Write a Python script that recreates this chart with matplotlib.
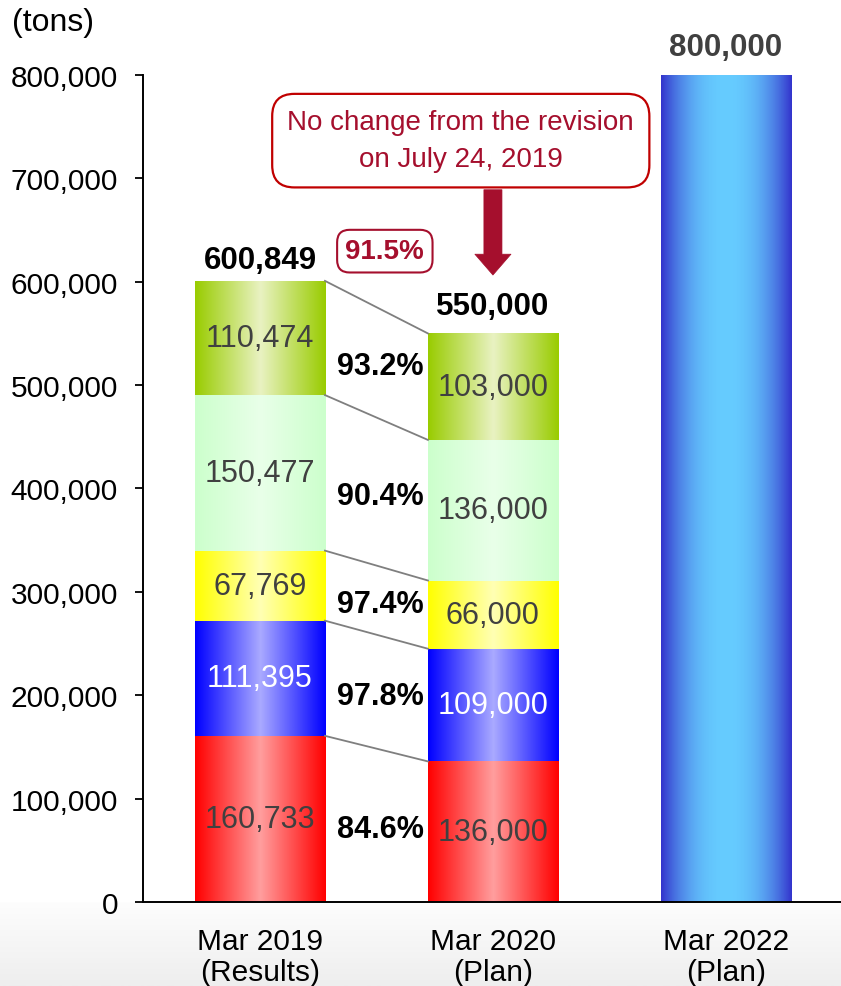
import numpy as np
import matplotlib
matplotlib.use("Agg")
import matplotlib.pyplot as plt
from matplotlib.colors import to_rgb

plt.rcParams['font.family'] = ['Liberation Sans', 'DejaVu Sans']

# ---------------- data ----------------
categories = ["Mar 2019\n(Results)", "Mar 2020\n(Plan)", "Mar 2022\n(Plan)"]
seg_2019 = [160733, 111395, 67769, 150477, 110474]
seg_2020 = [136000, 109000, 66000, 136000, 103000]
total_2022 = 800000
total_labels = ["600,849", "550,000", "800,000"]
pct_labels = ["84.6%", "97.8%", "97.4%", "90.4%", "93.2%"]
overall_pct = "91.5%"
callout_text = "No change from the revision\non July 24, 2019"
y_ticks = [0, 100000, 200000, 300000, 400000, 500000, 600000, 700000, 800000]

# ---------------- styles ----------------
seg_colors = [("#FF0000", "#FF9E9E"), ("#0000FF", "#AAAAFF"), ("#FFFF00", "#FFFFB4"),
              ("#CCFFCC", "#E9FFE9"), ("#99CC00", "#E9F2C2")]
seg_text_colors = ["#404040", "#FFFFFF", "#404040", "#404040", "#404040"]
bar3_colors = ("#3333CC", "#66CCFF")
crimson = "#A50F2D"
W = 0.558

fig = plt.figure(figsize=8.41 * np.array([1, 987 / 841]), dpi=100)

# bottom light gray background
bg = fig.add_axes([0, 0, 1, 84 / 987])
bg.set_zorder(-1)
grad_v = np.linspace(0, 1, 64)[:, None]
bgc = np.array(to_rgb("#FDFDFD")) * (1 - grad_v[..., None]) + np.array(to_rgb("#EEEEEE")) * grad_v[..., None]
bg.imshow(bgc, aspect='auto', extent=[0, 1, 0, 1], origin='upper')
bg.axis('off')

ax = fig.add_axes([143 / 841, 84 / 987, 1 - 143 / 841, (903 - 76) / 987])
ax.set_zorder(1)


def gradient_bar(x, bottom, height, edge, center, power=1.0):
    rect = ax.bar(x, height, W, bottom=bottom, facecolor='none', edgecolor='none')[0]
    t = np.abs(np.linspace(-1, 1, 256)) ** power
    e = np.array(to_rgb(edge))
    c = np.array(to_rgb(center))
    img = c[None, :] * (1 - t[:, None]) + e[None, :] * t[:, None]
    im = ax.imshow(img[None, :, :], aspect='auto',
                   extent=[x - W / 2, x + W / 2, bottom, bottom + height],
                   interpolation='bilinear', zorder=2)
    im.set_clip_path(rect)
    return rect


xs = np.arange(len(categories))
for xi, segs in zip(xs[:2], [seg_2019, seg_2020]):
    cum = np.concatenate([[0], np.cumsum(segs)])
    for i, v in enumerate(segs):
        gradient_bar(xi, cum[i], v, *seg_colors[i])
        ax.text(xi, cum[i] + v / 2, f"{v:,}", ha='center', va='center',
                fontsize=22, color=seg_text_colors[i], zorder=5)

gradient_bar(xs[2], 0, total_2022, *bar3_colors, power=2.2)

# connector lines and percentages
cum1 = np.cumsum(seg_2019)
cum2 = np.cumsum(seg_2020)
for i in range(len(seg_2019)):
    ax.plot([xs[0] + W / 2, xs[1] - W / 2], [cum1[i], cum2[i]], color="#7F7F7F", lw=1.3, zorder=3)
    mid = ((cum1[i] - seg_2019[i] / 2) + (cum2[i] - seg_2020[i] / 2)) / 2
    ax.annotate(pct_labels[i], (0.515, mid), xytext=(0, -3), textcoords='offset points',
                ha='center', va='center', fontsize=22, fontweight='bold', color='black', zorder=5)

# totals
totals = [cum1[-1], cum2[-1], total_2022]
offs = [4, 9, 9]
tcolors = ['black', 'black', '#404040']
for xi, tv, lab, o, c in zip(xs, totals, total_labels, offs, tcolors):
    ax.annotate(lab, (xi, tv), xytext=(0, o), textcoords='offset points',
                ha='center', va='bottom', fontsize=22.5, fontweight='bold', color=c, zorder=5)

# overall percentage box
ax.text(0.536, 629600, overall_pct, ha='center', va='center', fontsize=20, fontweight='bold',
        color=crimson, zorder=6,
        bbox=dict(boxstyle='round,pad=0.3,rounding_size=0.45', fc='white', ec=crimson, lw=1.5))

# callout
ax.text(0.862, 736500, callout_text, ha='center', va='center', fontsize=20, color=crimson,
        linespacing=1.55, zorder=6,
        bbox=dict(boxstyle='round,pad=0.55,rounding_size=0.8', fc='white', ec="#C00000", lw=1.6))
ax.annotate("", xy=(xs[1], 606500), xytext=(xs[1], 689000),
            arrowprops=dict(arrowstyle='simple,head_width=2.6,head_length=1.5,tail_width=1.3',
                            fc=crimson, ec=crimson, lw=0.5, shrinkA=0, shrinkB=0), zorder=6)

# axes styling
ax.set_xlim(-0.502, 2.494)
ax.set_ylim(0, 800000)
ax.set_yticks(y_ticks)
ax.set_yticklabels([f"{v:,}" for v in y_ticks], fontsize=21.5)
ax.set_xticks(xs)
ax.set_xticklabels(categories, fontsize=21.5, linespacing=1.12)
ax.tick_params(axis='y', length=6, width=1.3, pad=12, color='black')
ax.tick_params(axis='x', length=0, pad=18)
for s in ['top', 'right']:
    ax.spines[s].set_visible(False)
for s in ['left', 'bottom']:
    ax.spines[s].set_linewidth(1.4)
    ax.spines[s].set_color('black')
ax.set_facecolor('white')

fig.text(12 / 841, 1 - 23 / 987, "(tons)", ha='left', va='center', fontsize=23)

fig.savefig("out.png", dpi=100)
